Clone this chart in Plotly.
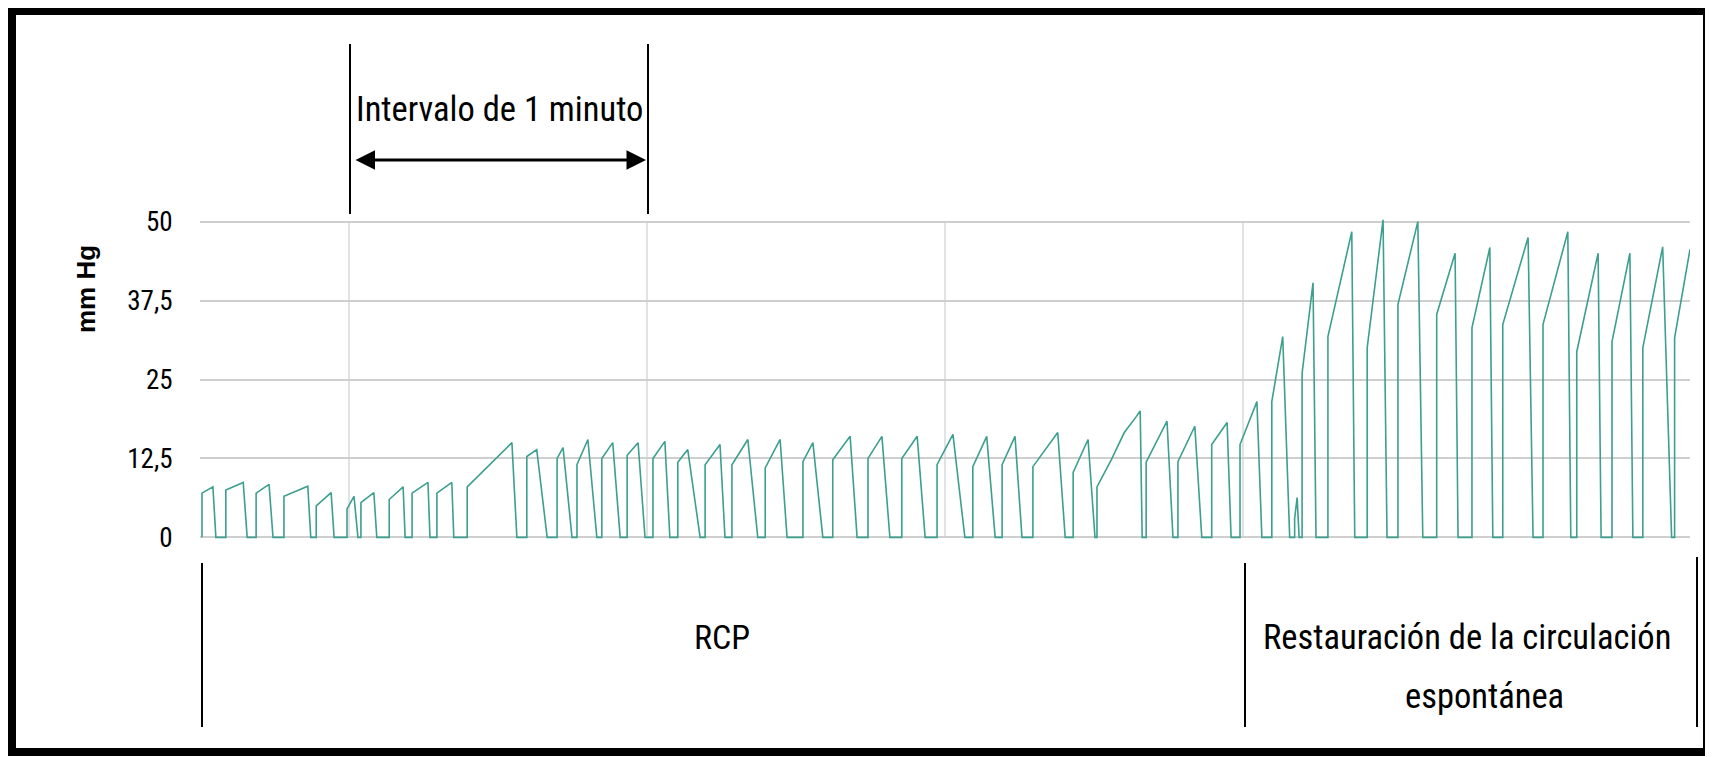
import plotly.graph_objects as go

# ---------------- data ----------------
# time in seconds (5 minutes shown), values in mm Hg
up_t = [0.4, 5.2, 11.3, 16.9, 23.4, 29.6, 32.4, 38.1, 42.7, 47.7,
        53.8, 65.8, 71.9, 75.9, 80.9, 86.0, 91.2, 96.2, 101.7, 107.1,
        113.8, 121.4, 127.4, 134.5, 141.3, 148.4, 155.6, 161.5, 167.7, 175.8,
        180.6, 190.5, 196.9, 203.7, 209.4, 215.8, 220.4,
        221.9, 227.1, 235.0, 241.2, 249.0, 256.1, 262.3, 270.4, 277.2, 284.3, 290.5, 296.9]
up_v = [7.0, 7.5, 7.0, 6.5, 5.0, 4.5, 5.5, 6.0, 7.0, 7.0,
        8.0, 12.8, 12.5, 11.5, 12.5, 13.0, 12.5, 11.9, 11.5, 11.5,
        11.0, 12.0, 12.3, 12.5, 12.5, 11.5, 11.2, 11.5, 11.2, 10.3,
        8.0, 11.9, 12.0, 14.7, 14.7, 21.5, 3.0,
        26.0, 31.8, 30.0, 36.9, 35.3, 33.2, 33.7, 33.7, 29.4, 31.0, 30.0, 31.6]
pk_t = [2.6, 8.7, 13.9, 21.7, 26.4, 31.0, 35.0, 40.9, 45.9, 50.7,
        62.8, 67.8, 73.1, 78.1, 83.1, 88.2, 93.6, 98.2, 104.7, 110.3,
        116.8, 123.4, 130.9, 137.3, 144.4, 151.6, 158.4, 164.1, 172.7, 178.8,
        189.3, 194.7, 200.3, 206.8, 212.8, 218.0, 220.9,
        224.1, 231.9, 238.2, 245.2, 252.7, 259.7, 267.4, 275.4, 281.5, 287.9, 294.5, 300.0]
pk_v = [8.0, 8.7, 8.4, 8.1, 7.1, 6.5, 7.1, 8.0, 8.7, 8.7,
        15.0, 13.9, 14.2, 15.5, 15.0, 15.0, 15.2, 13.9, 14.7, 15.5,
        15.5, 15.0, 16.0, 16.0, 16.0, 16.3, 16.0, 16.0, 16.6, 15.5,
        20.0, 18.4, 17.6, 18.2, 21.5, 31.8, 6.3,
        40.3, 48.4, 50.3, 50.0, 45.0, 45.9, 47.5, 48.4, 45.0, 45.0, 46.0, 45.6]
dn_t = [3.2, 9.5, 14.7, 22.3, 27.0, 31.8, 35.6, 41.3, 46.3, 51.1,
        63.8, 69.9, 74.9, 79.9, 84.6, 89.6, 94.6, 100.7, 105.7, 112.3,
        118.2, 125.4, 132.3, 138.9, 146.0, 154.0, 160.1, 165.5, 174.2, 180.2,
        189.7, 195.9, 201.7, 207.6, 213.8, 219.4, 221.3,
        224.7, 232.5, 239.0, 246.2, 253.3, 260.3, 268.4, 276.0, 282.1, 288.5, 296.3, None]

# curved plateau of the long breath just before ROSC (breath index 30)
curve_breath = 30
curve_t = [183.5, 186.1, 188.4]
curve_v = [12.3, 16.6, 19.0]

y_ticks = [0, 12.5, 25, 37.5, 50]
y_tick_labels = ["0", "12,5", "25", "37,5", "50"]
minute_marks = [30, 90, 150, 210]

# ---------------- build waveform from the breaths ----------------
xs, ys = [], []
for i in range(len(up_t)):
    xs += [up_t[i], up_t[i]]
    ys += [0, up_v[i]]
    if i == curve_breath:
        xs += curve_t
        ys += curve_v
    xs.append(pk_t[i])
    ys.append(pk_v[i])
    if dn_t[i] is not None:
        xs.append(dn_t[i])
        ys.append(0)

# page body has an 8px default margin -> figure is placed at (8, 8)
OFF = 8
W, H = 1705, 749
ML, MR, MT, MB = 192, 23, 201, 207
PW, PH = W - ML - MR, H - MT - MB


def px(x):  # screen x -> paper
    return (x - OFF - ML) / PW


def py(y):  # screen y -> paper
    return (H - MB - (y - OFF)) / PH


FONT = "Noto Sans Condensed, Roboto Condensed, Liberation Sans, sans-serif"
FONT_BOLD = "Liberation Sans, Arial, sans-serif"

fig = go.Figure()
fig.add_trace(go.Scatter(x=xs, y=ys, mode="lines",
                         line=dict(color="#3c9f8f", width=1.6),
                         hoverinfo="skip", showlegend=False))

shapes = []
# minute grid lines (from baseline to 50 mm Hg)
for m in minute_marks:
    shapes.append(dict(type="line", xref="x", yref="y", x0=m, x1=m, y0=0, y1=y_ticks[-1],
                       line=dict(color="#c6c6c6", width=1), layer="below"))
# outer black frame
shapes.append(dict(type="rect", xref="paper", yref="paper",
                   x0=px(12), x1=px(1707), y0=py(11), y1=py(752),
                   line=dict(color="black", width=8)))
# interval markers above the chart
for xx in (350, 648):
    shapes.append(dict(type="line", xref="paper", yref="paper",
                       x0=px(xx), x1=px(xx), y0=py(44), y1=py(214),
                       line=dict(color="black", width=2)))
# phase separators below the chart
for xx, ytop in ((202, 563), (1245, 563), (1697, 557)):
    shapes.append(dict(type="line", xref="paper", yref="paper",
                       x0=px(xx), x1=px(xx), y0=py(ytop), y1=py(727),
                       line=dict(color="black", width=2)))

annotations = [
    dict(text="Intervalo de 1 minuto", xref="paper", yref="paper",
         x=px(499), y=py(109), xanchor="center", yanchor="middle", showarrow=False,
         font=dict(family=FONT, size=34.5, color="black")),
    dict(text="", xref="paper", yref="paper", x=px(646), y=py(160),
         axref="pixel", ayref="pixel", ax=-292, ay=0,
         showarrow=True, arrowside="end+start", arrowhead=2,
         arrowsize=1.3, arrowwidth=3, arrowcolor="black",
         standoff=0, startstandoff=0),
    dict(text="<b>mm Hg</b>", xref="paper", yref="paper", x=px(86), y=py(289),
         xanchor="center", yanchor="middle", textangle=-90, showarrow=False,
         font=dict(family=FONT_BOLD, size=26, color="black")),
    dict(text="RCP", xref="paper", yref="paper", x=px(722), y=py(637),
         xanchor="center", yanchor="middle",
         showarrow=False, font=dict(family=FONT, size=34, color="black")),
    dict(text="Restauración de la circulación", xref="paper", yref="paper",
         x=px(1467), y=py(637), xanchor="center", yanchor="middle", showarrow=False,
         font=dict(family=FONT, size=34.5, color="black")),
    dict(text="espontánea", xref="paper", yref="paper",
         x=px(1484), y=py(696), xanchor="center", yanchor="middle", showarrow=False,
         font=dict(family=FONT, size=34.5, color="black")),
]

fig.update_layout(
    width=W, height=H,
    margin=dict(l=ML, r=MR, t=MT, b=MB),
    paper_bgcolor="white", plot_bgcolor="white",
    shapes=shapes, annotations=annotations,
    xaxis=dict(range=[0, 300], showticklabels=False, showgrid=False,
               zeroline=False, showline=False, ticks=""),
    yaxis=dict(range=[-2, 52], tickvals=y_ticks, ticktext=y_tick_labels,
               showgrid=True, gridcolor="#cfcfcf", gridwidth=2,
               zeroline=False, showline=False, automargin=False,
               ticks="outside", ticklen=21, tickcolor="rgba(0,0,0,0)",
               tickfont=dict(family=FONT, size=27, color="black")),
)

fig.write_html("out.html")
